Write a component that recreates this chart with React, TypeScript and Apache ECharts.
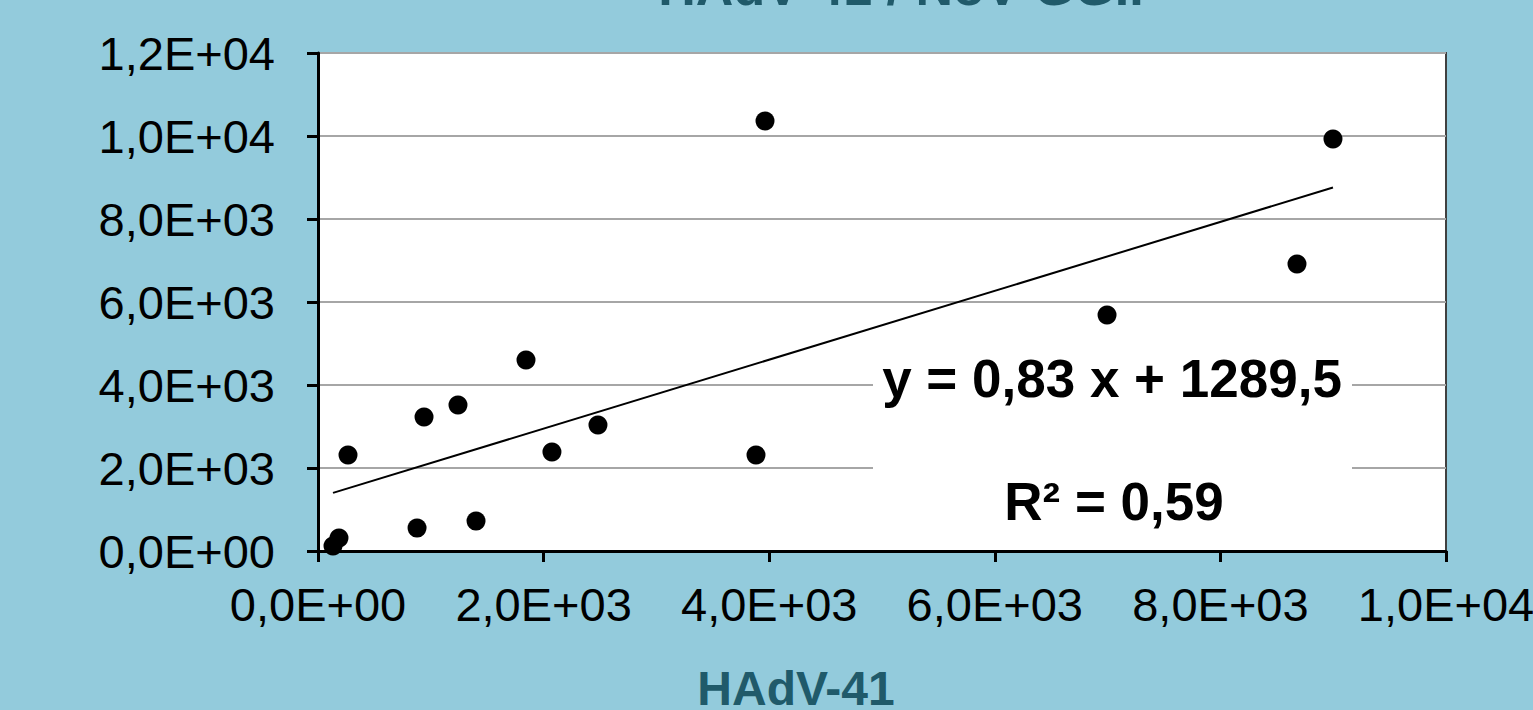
import React, { useEffect, useRef } from "react";
import * as echarts from "echarts";

const xValues = [133, 186, 266, 878, 940, 1241, 1401, 1844, 2074, 2482, 3883, 3963, 6995, 8679, 8998];
const yValues = [120, 313, 2313, 554, 3229, 3518, 723, 4602, 2386, 3036, 2313, 10361, 5687, 6916, 9928];
const slope = 0.83;
const intercept = 1289.5;
const equationText = "y = 0,83 x + 1289,5";
const r2Text = "R² = 0,59";
const titleText = "HAdV-41 / NoV GGII";
const xTitle = "HAdV-41";

const FONT = "'Liberation Sans', Arial, sans-serif";

function fmt(v: number): string {
  if (v === 0) return "0,0E+00";
  const e = Math.floor(Math.log10(Math.abs(v)) + 1e-9);
  const m = v / Math.pow(10, e);
  return m.toFixed(1).replace(".", ",") + "E" + (e < 0 ? "-" : "+") + String(Math.abs(e)).padStart(2, "0");
}

export default function App() {
  const ref = useRef<HTMLDivElement>(null);
  useEffect(() => {
    if (!ref.current) return;
    const chart = echarts.init(ref.current, undefined, { renderer: "svg" });
    const xmin = Math.min(...xValues);
    const xmax = Math.max(...xValues);
    const trend = [
      [xmin, slope * xmin + intercept],
      [xmax, slope * xmax + intercept],
    ];
    chart.setOption({
      animation: false,
      backgroundColor: "#93CBDC",
      textStyle: { fontFamily: FONT },
      grid: {
        left: 318,
        right: 87,
        top: 53,
        bottom: 159,
        outerBoundsMode: "none",
        containLabel: false,
        show: true,
        backgroundColor: "#ffffff",
        borderColor: "#404040",
        borderWidth: 2,
      },
      xAxis: {
        type: "value",
        min: 0,
        max: 10000,
        interval: 2000,
        splitLine: { show: false },
        axisLine: { show: true, onZero: false, lineStyle: { color: "#000", width: 3 } },
        axisTick: { show: true, inside: false, length: 11, lineStyle: { color: "#000", width: 3 } },
        axisLabel: {
          formatter: fmt,
          fontSize: 47,
          color: "#000",
          fontFamily: FONT,
          margin: 30,
          showMaxLabel: true,
          showMinLabel: true,
        },
      },
      yAxis: {
        type: "value",
        min: 0,
        max: 12000,
        interval: 2000,
        splitLine: { show: true, lineStyle: { color: "#A6A6A6", width: 2 } },
        axisLine: { show: true, onZero: false, lineStyle: { color: "#000", width: 3 } },
        axisTick: { show: true, inside: false, length: 11, lineStyle: { color: "#000", width: 3 } },
        axisLabel: {
          formatter: fmt,
          fontSize: 47,
          color: "#000",
          fontFamily: FONT,
          margin: 43,
          showMaxLabel: true,
          showMinLabel: true,
        },
      },
      series: [
        {
          type: "line",
          data: trend,
          symbol: "none",
          lineStyle: { color: "#000", width: 2 },
          z: 3,
        },
        {
          type: "scatter",
          data: xValues.map((x, i) => [x, yValues[i]]),
          symbol: "circle",
          symbolSize: 19,
          itemStyle: { color: "#000", opacity: 1 },
          z: 4,
        },
      ],
      graphic: [
        {
          type: "rect",
          shape: { x: 873, y: 342, width: 479, height: 192 },
          style: { fill: "#ffffff" },
          z: 5,
        },
        {
          type: "text",
          x: 1112,
          y: 378,
          z: 6,
          style: {
            text: equationText,
            fontSize: 53,
            fontWeight: "bold",
            fontFamily: FONT,
            fill: "#000",
            align: "center",
            verticalAlign: "middle",
          },
        },
        {
          type: "text",
          x: 1114,
          y: 501,
          z: 6,
          style: {
            text: r2Text,
            fontSize: 53,
            fontWeight: "bold",
            fontFamily: FONT,
            fill: "#000",
            align: "center",
            verticalAlign: "middle",
          },
        },
        {
          type: "text",
          x: 901,
          y: -13,
          z: 6,
          style: {
            text: titleText,
            fontSize: 52,
            fontWeight: "bold",
            fontFamily: FONT,
            fill: "#205A6A",
            align: "center",
            verticalAlign: "middle",
          },
        },
        {
          type: "text",
          x: 796,
          y: 688,
          z: 6,
          style: {
            text: xTitle,
            fontSize: 48,
            fontWeight: "bold",
            fontFamily: FONT,
            fill: "#205A6A",
            align: "center",
            verticalAlign: "middle",
          },
        },
      ],
    });
    return () => chart.dispose();
  }, []);
  return (
    <div
      ref={ref}
      style={{ position: "fixed", left: 0, top: 0, width: 1533, height: 710 }}
    />
  );
}
